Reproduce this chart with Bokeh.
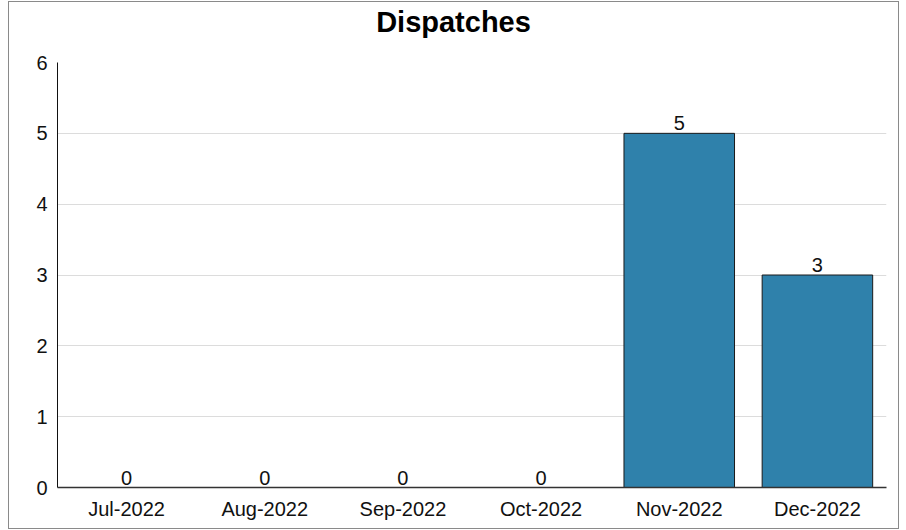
from bokeh.plotting import figure
from bokeh.models import ColumnDataSource, FixedTicker, Range1d, Div
from bokeh.layouts import column
from bokeh.core.properties import value
from bokeh.embed import file_html
from bokeh.resources import INLINE

chart_title = "Dispatches"
months = ["Jul-2022", "Aug-2022", "Sep-2022", "Oct-2022", "Nov-2022", "Dec-2022"]
dispatches = [0, 0, 0, 0, 5, 3]
y_ticks = [0, 1, 2, 3, 4, 5, 6]

src = ColumnDataSource(dict(month=months, count=dispatches, label=[str(v) for v in dispatches]))

title_div = Div(text=chart_title, width=889, height=50, margin=(0, 0, 0, 0),
                styles={"text-align": "center", "font-size": "29px", "font-weight": "bold",
                        "font-family": "Liberation Sans", "line-height": "40px", "color": "#000000",
                        "width": "889px"})

p = figure(x_range=months, y_range=Range1d(0, 6), width=889, height=476,
           output_backend="svg", toolbar_location=None, margin=(0, 0, 0, 0),
           min_border_left=48, min_border_right=12, min_border_top=10, min_border_bottom=41)

p.vbar(x="month", top="count", width=0.8, source=src, fill_color="#2f81ab",
       line_color="#1a1a1a", line_width=1)
p.text(x="month", y="count", text="label", source=src, text_align="center",
       text_baseline="bottom", y_offset=-3, text_font=value("Liberation Sans"),
       text_font_size="20px", text_color="#111111")

p.outline_line_color = None
p.xgrid.grid_line_color = None
p.ygrid.grid_line_color = "#dcdcdc"
p.ygrid.grid_line_width = 1

p.yaxis.ticker = FixedTicker(ticks=y_ticks)
p.yaxis.axis_line_color = "#111111"
p.yaxis.major_tick_line_color = None
p.yaxis.minor_tick_line_color = None
p.yaxis.major_tick_out = 0
p.yaxis.major_tick_in = 0
p.yaxis.major_label_standoff = 10

p.xaxis.axis_line_color = "#333333"
p.xaxis.axis_line_width = 1.5
p.xaxis.major_tick_line_color = None
p.xaxis.major_tick_out = 0
p.xaxis.major_tick_in = 0
p.xaxis.major_label_standoff = 10

for ax in (p.xaxis, p.yaxis):
    ax.major_label_text_font = "Liberation Sans"
    ax.major_label_text_font_size = "20px"
    ax.major_label_text_color = "#111111"

p.x_range.range_padding = 0

layout = column(title_div, p, spacing=0, margin=(0, 0, 0, 0),
                styles={"border": "1px solid #8a8a8a", "margin-left": "8px", "margin-top": "1px"})

open("out.html", "w").write(file_html(layout, INLINE))
